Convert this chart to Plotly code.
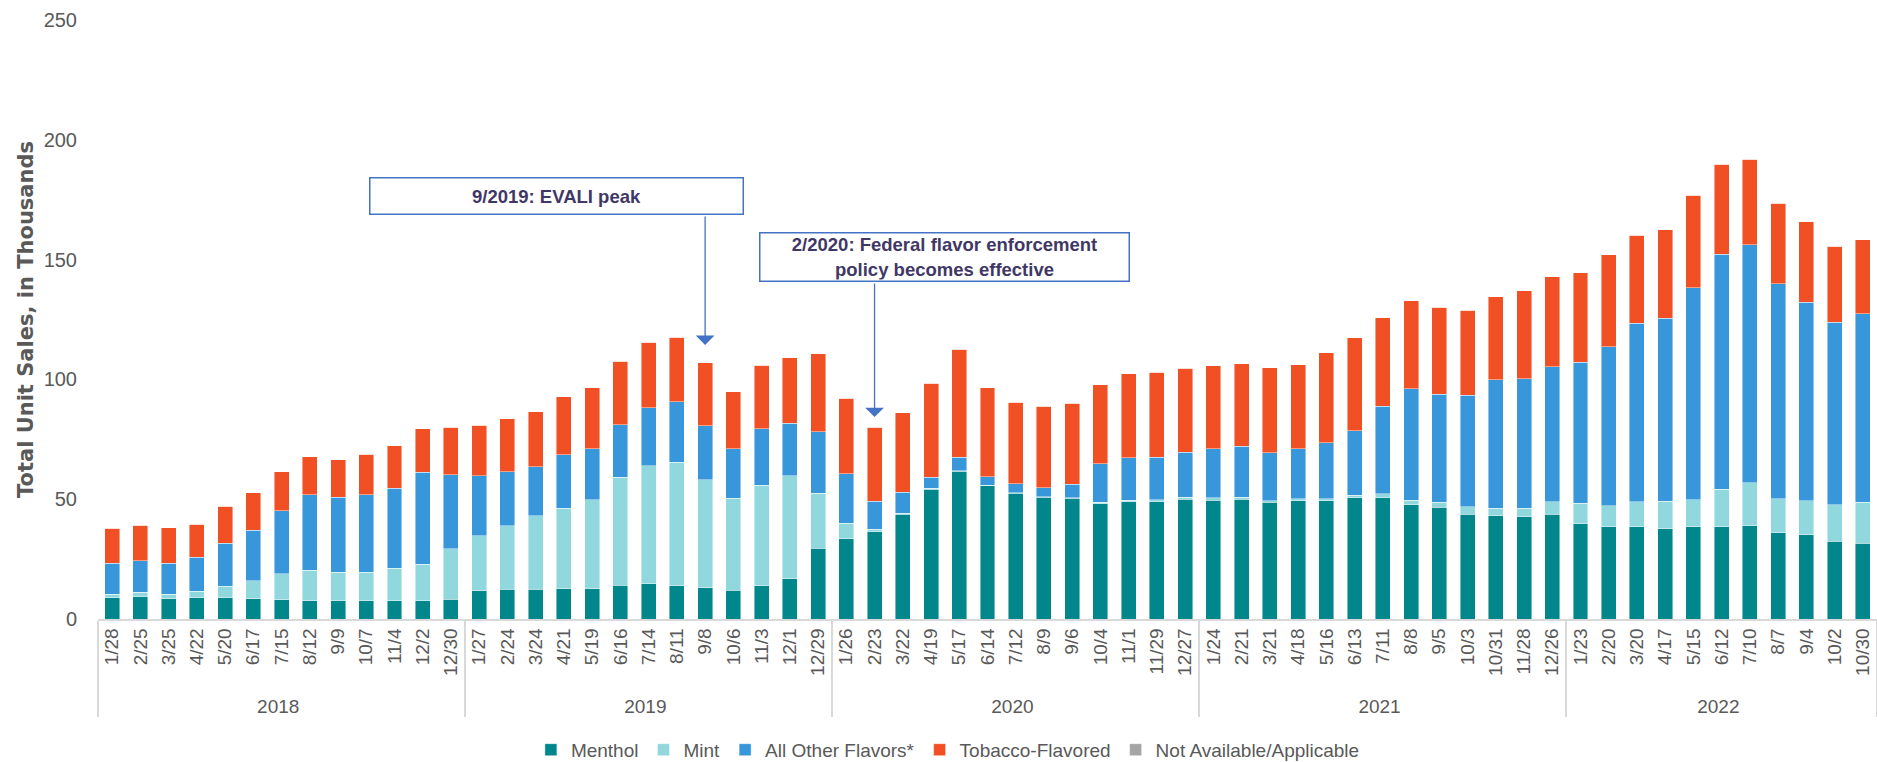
import plotly.graph_objects as go

# ---- data (unit sales, thousands) ----
weeks_2018 = ["1/28", "2/25", "3/25", "4/22", "5/20", "6/17", "7/15", "8/12", "9/9", "10/7", "11/4", "12/2", "12/30"]
weeks_2019 = ["1/27", "2/24", "3/24", "4/21", "5/19", "6/16", "7/14", "8/11", "9/8", "10/6", "11/3", "12/1", "12/29"]
weeks_2020 = ["1/26", "2/23", "3/22", "4/19", "5/17", "6/14", "7/12", "8/9", "9/6", "10/4", "11/1", "11/29", "12/27"]
weeks_2021 = ["1/24", "2/21", "3/21", "4/18", "5/16", "6/13", "7/11", "8/8", "9/5", "10/3", "10/31", "11/28", "12/26"]
weeks_2022 = ["1/23", "2/20", "3/20", "4/17", "5/15", "6/12", "7/10", "8/7", "9/4", "10/2", "10/30"]
year_names = ["2018", "2019", "2020", "2021", "2022"]

menthol = [8.9, 9.3, 8.4, 8.9, 8.9, 8.4, 8.0, 7.7, 7.6, 7.7, 7.6, 7.6, 8.2,
           11.7, 12.5, 12.4, 12.7, 12.7, 14.1, 14.8, 13.9, 13.1, 12.1, 13.8, 16.8, 29.6,
           33.4, 36.5, 43.7, 54.1, 61.7, 55.8, 52.5, 50.8, 50.4, 48.2, 49.0, 48.9, 50.0,
           49.5, 50.0, 48.7, 49.4, 49.4, 50.7, 50.7, 47.7, 46.6, 43.7, 43.1, 42.7, 43.7,
           39.7, 38.6, 38.6, 37.6, 38.6, 38.6, 39.0, 35.9, 35.2, 32.4, 31.7]
mint = [1.5, 1.9, 2.0, 2.7, 4.8, 7.6, 10.9, 12.7, 12.0, 11.9, 13.6, 15.3, 21.1,
        23.1, 26.4, 30.7, 33.6, 37.1, 45.0, 49.2, 51.5, 45.1, 38.3, 42.0, 43.0, 22.9,
        6.5, 0.9, 0.4, 0.5, 0.2, 0.1, 0.2, 0.3, 0.3, 0.5, 0.5, 0.8, 0.8,
        1.2, 0.9, 0.7, 0.7, 0.8, 0.9, 1.5, 1.8, 2.1, 3.1, 3.2, 3.6, 5.2,
        8.6, 8.6, 10.4, 11.5, 11.1, 15.5, 17.9, 14.3, 14.1, 15.2, 17.0]
other_flavors = [12.9, 13.1, 12.9, 14.2, 17.9, 21.1, 26.2, 31.5, 31.3, 32.3, 33.4, 38.3, 30.9,
                 24.9, 22.5, 20.4, 22.2, 21.2, 22.0, 24.2, 25.3, 22.5, 20.7, 23.7, 21.9, 25.7,
                 20.7, 11.7, 8.8, 4.6, 5.6, 3.5, 3.7, 3.6, 5.5, 16.2, 17.9, 17.8, 18.7,
                 20.4, 21.2, 19.9, 21.0, 23.4, 27.0, 36.5, 46.7, 45.1, 46.6, 53.5, 54.0, 56.3,
                 58.9, 66.5, 74.5, 76.4, 88.6, 98.2, 99.4, 89.7, 82.9, 76.3, 78.8]
tobacco = [14.5, 14.9, 14.7, 13.8, 15.5, 15.6, 16.4, 15.9, 15.5, 16.8, 17.7, 18.3, 19.9,
           21.1, 22.2, 23.1, 24.3, 25.6, 26.5, 27.3, 26.9, 26.2, 23.7, 26.4, 27.4, 32.6,
           31.5, 30.9, 33.1, 39.2, 45.1, 37.1, 34.1, 34.2, 33.8, 32.9, 35.0, 35.4, 35.2,
           34.7, 34.5, 35.5, 35.1, 37.6, 38.7, 37.0, 36.6, 36.3, 35.5, 34.8, 36.8, 37.6,
           37.4, 38.3, 36.7, 36.9, 38.5, 37.4, 35.6, 33.7, 33.7, 31.6, 30.7]
not_available = [0.0] * 63

y_ticks = [0, 50, 100, 150, 200, 250]

# ---- build axis categories ----
week_groups = [weeks_2018, weeks_2019, weeks_2020, weeks_2021, weeks_2022]
weeks = [w for grp in week_groups for w in grp]
years = [yr for yr, grp in zip(year_names, week_groups) for _ in grp]
x_cats = [years, weeks]

series = [
    ("Menthol", menthol, "#00868B"),
    ("Mint", mint, "#91D8DE"),
    ("All Other Flavors*", other_flavors, "#3896DA"),
    ("Tobacco-Flavored", tobacco, "#F05023"),
    ("Not Available/Applicable", not_available, "#A5A5A5"),
]

fig = go.Figure()
for name, vals, col in series:
    fig.add_trace(go.Bar(
        x=x_cats, y=vals, name=name,
        marker=dict(color=col, line=dict(color="rgba(255,255,255,0.55)", width=0.8)),
    ))

text_gray = "#595959"
box_text = "#3F3866"
box_line = "#4472C4"

# annotation targets (index positions on category axis)
evali_idx = len(weeks_2018) + weeks_2019.index("9/8")
fed_idx = len(weeks_2018) + len(weeks_2019) + weeks_2020.index("2/23")
evali_total = menthol[evali_idx] + mint[evali_idx] + other_flavors[evali_idx] + tobacco[evali_idx]
fed_total = menthol[fed_idx] + mint[fed_idx] + other_flavors[fed_idx] + tobacco[fed_idx]

annotations = [
    dict(xref="paper", yref="paper", x=0.258, y=0.707, xanchor="center", yanchor="middle",
         text="<b>9/2019: EVALI peak</b>", showarrow=False, width=370, height=33,
         bordercolor=box_line, borderwidth=1.5, borderpad=1, bgcolor="white",
         font=dict(family="Liberation Sans, Arial, sans-serif", size=18.5, color=box_text)),
    dict(xref="paper", yref="paper", x=0.4758, y=0.605, xanchor="center", yanchor="middle",
         text="<b>2/2020: Federal flavor enforcement<br>policy becomes effective</b>",
         showarrow=False, width=366, height=45, bordercolor=box_line, borderwidth=1.5,
         borderpad=1, bgcolor="white",
         font=dict(family="Liberation Sans, Arial, sans-serif", size=18.5, color=box_text)),
    dict(xref="x", yref="y", x=evali_idx, y=evali_total + 7.5, text="", showarrow=True,
         ax=0, ay=-130, arrowhead=1, arrowsize=2.4, arrowwidth=1.3, arrowcolor=box_line,
         standoff=0, startstandoff=0),
    dict(xref="x", yref="y", x=fed_idx, y=fed_total + 4.3, text="", showarrow=True,
         ax=0, ay=-135, arrowhead=1, arrowsize=2.4, arrowwidth=1.3, arrowcolor=box_line,
         standoff=0, startstandoff=0),
]

fig.update_layout(
    width=1877, height=762,
    barmode="stack", bargap=0.47,
    plot_bgcolor="white", paper_bgcolor="white",
    margin=dict(l=98, r=0, t=20, b=143, autoexpand=False),
    font=dict(family="Liberation Sans, Arial, sans-serif", size=19, color=text_gray),
    showlegend=True,
    legend=dict(orientation="h", xref="container", yref="container", x=0.505, y=0.016,
                xanchor="center", yanchor="middle", font=dict(size=19, color=text_gray),
                traceorder="normal", itemwidth=30, bgcolor="rgba(0,0,0,0)"),
    annotations=annotations,
)
fig.update_xaxes(
    type="multicategory", tickangle=-90, showline=True, linecolor="#D9D9D9", linewidth=1.5,
    showgrid=False, zeroline=False, ticks="", showdividers=True, dividercolor="#D9D9D9",
    dividerwidth=1.5, tickfont=dict(size=19, color=text_gray), automargin=False,
)
fig.update_yaxes(
    range=[0, 250], tickvals=y_ticks, showgrid=False, zeroline=False, showline=False,
    ticks="outside", ticklen=16, tickcolor="rgba(0,0,0,0)",
    tickfont=dict(size=20, color=text_gray), automargin=False,
    title=dict(text="<b>Total Unit Sales, in Thousands</b>", standoff=4,
               font=dict(family="DejaVu Sans, Verdana, sans-serif", size=21, color=text_gray)),
)

fig.write_html("out.html", config={"displayModeBar": False},
               post_script="document.body.style.margin='0';document.body.style.overflow='hidden';")
